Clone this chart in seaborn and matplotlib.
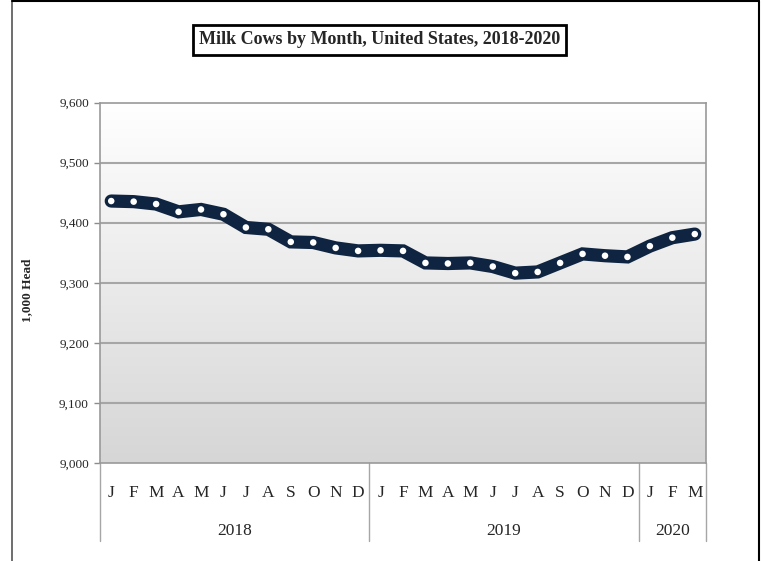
import numpy as np
import pandas as pd
import matplotlib.pyplot as plt
import seaborn as sns
from matplotlib.lines import Line2D
from matplotlib.colors import LinearSegmentedColormap

# Milk cows, 1,000 head, Jan 2018 - Mar 2020
months = ['J', 'F', 'M', 'A', 'M', 'J', 'J', 'A', 'S', 'O', 'N', 'D',
          'J', 'F', 'M', 'A', 'M', 'J', 'J', 'A', 'S', 'O', 'N', 'D',
          'J', 'F', 'M']
years = ['2018', '2019', '2020']
months_per_year = [12, 12, 3]
head = [9436, 9435, 9431, 9418, 9422, 9414, 9392, 9389, 9368, 9367, 9358, 9353,
        9354, 9353, 9333, 9332, 9333, 9327, 9316, 9318, 9333, 9348, 9345, 9343,
        9361, 9375, 9381]
y_ticks = [9000, 9100, 9200, 9300, 9400, 9500, 9600]

df = pd.DataFrame({'pos': np.arange(len(head)), 'head': head})

sns.set_theme(style='white')
plt.rcParams['font.family'] = ['Liberation Serif', 'DejaVu Serif']
serif = ['Liberation Serif', 'DejaVu Serif']

fig = plt.figure(figsize=(7.63, 5.61), dpi=100)
ax = fig.add_axes([100 / 763, 1 - 463 / 561, 606 / 763, 360.5 / 561])

# gradient plot-area background
cmap = LinearSegmentedColormap.from_list('bg', ['#ffffff', '#d6d6d6'])
ax.imshow(np.linspace(0, 1, 256).reshape(-1, 1), cmap=cmap, aspect='auto',
          extent=[0, 1, 0, 1], transform=ax.transAxes, zorder=0)

for t in y_ticks[1:-1]:
    ax.axhline(t, color='#a6a6a6', lw=1.5, zorder=1)

sns.lineplot(data=df, x='pos', y='head', ax=ax, color='#0e2440', lw=9.5,
             solid_joinstyle='miter', zorder=3, legend=False)
sns.scatterplot(data=df, x='pos', y='head', ax=ax, color='white', s=22,
                edgecolor='none', zorder=4, legend=False)

ax.set_xlim(-0.5, len(head) - 0.5)
ax.set_ylim(y_ticks[0], y_ticks[-1])
ax.set_yticks(y_ticks)
ax.set_yticklabels([f'{v:,}' for v in y_ticks], fontsize=9.5, family=serif)
ax.set_xticks(df['pos'])
ax.set_xticklabels(months, fontsize=12.5, family=serif)
ax.tick_params(axis='x', length=0, pad=16)
ax.tick_params(axis='y', left=True, length=4, width=1, color='#8c8c8c', pad=4)
ax.set_xlabel('')
ax.set_ylabel('1,000 Head', fontsize=9.5, fontweight='bold', family=serif)
ax.yaxis.set_label_coords(-0.11, 0.48)
for s in ax.spines.values():
    s.set_color('#999999')
    s.set_linewidth(1.2)

# year level of the category axis
trans = ax.get_xaxis_transform()
start = -0.5
bounds = [start]
for yr, n in zip(years, months_per_year):
    ax.text(start + n / 2, -0.19, yr, transform=trans, ha='center', va='center',
            fontsize=12.5, family=serif)
    start += n
    bounds.append(start)
for b in bounds:
    ax.plot([b, b], [0, -0.215], transform=trans, color='#a6a6a6', lw=1,
            clip_on=False)

# title box
fig.text(0.4974, 1 - 40 / 561, 'Milk Cows by Month, United States, 2018-2020',
         ha='center', va='center', fontsize=13, fontweight='bold', family=serif,
         bbox=dict(boxstyle='square,pad=0.35', facecolor='white',
                   edgecolor='black', linewidth=2))

# outer frame (open at the bottom)
fig.add_artist(Line2D([12 / 763, 12 / 763], [0, 1 - 1 / 561], color='#555555', lw=1.2))
fig.add_artist(Line2D([759 / 763, 759 / 763], [0, 1 - 1 / 561], color='black', lw=1.5))
fig.add_artist(Line2D([12 / 763, 759 / 763], [1 - 1 / 561, 1 - 1 / 561], color='black', lw=1.5))

fig.savefig('out.png', dpi=100)
